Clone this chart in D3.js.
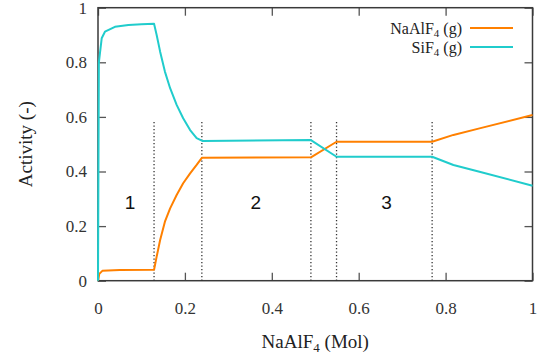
<!DOCTYPE html>
<html>
<head>
<meta charset="utf-8">
<script src="https://cdn.jsdelivr.net/npm/d3@7"></script>
<style>
  body { margin: 0; background: #fff; }
  svg { display: block; }
</style>
</head>
<body>
<svg id="chart" width="540" height="361"></svg>
<script>
// data
const naalf4X = [0, 0.003, 0.01, 0.05, 0.129, 0.135, 0.143, 0.154, 0.166, 0.181, 0.196, 0.212, 0.227, 0.239,
                 0.49, 0.549, 0.769, 0.818, 0.878, 1];
const naalf4Y = [0, 0.025, 0.036, 0.039, 0.04, 0.088, 0.149, 0.216, 0.265, 0.314, 0.357, 0.393, 0.424, 0.45,
                 0.452, 0.509, 0.509, 0.534, 0.558, 0.607];

const sif4X = [0, 0.002, 0.0085, 0.016, 0.039, 0.07, 0.1, 0.129, 0.135, 0.143, 0.154, 0.166, 0.181, 0.196, 0.212, 0.227, 0.24,
               0.49, 0.549, 0.769, 0.818, 0.878, 1];
const sif4Y = [0, 0.80, 0.888, 0.912, 0.93, 0.937, 0.939, 0.941, 0.900, 0.839, 0.766, 0.705, 0.644, 0.595, 0.552, 0.522, 0.512,
               0.515, 0.454, 0.454, 0.424, 0.399, 0.348];

const boundaries = [0.129, 0.239, 0.49, 0.549, 0.769];
const boundaryTop = 0.59;

const regionLabels = ["1", "2", "3"];
const regionX = [0.074, 0.363, 0.664];
const regionY = 0.285;

const tickValues = [0, 0.2, 0.4, 0.6, 0.8, 1];

const orange = "#ff8000";
const cyan = "#20cccc";

const svg = d3.select("#chart");

const x = d3.scaleLinear().domain([0, 1]).range([98, 532.5]);
const y = d3.scaleLinear().domain([0, 1]).range([280.7, 7.7]);

const fmt = d3.format("~g");
const serif = "'Liberation Serif', 'Times New Roman', serif";

// axes (ticks pointing inward)
const axBottom = svg.append("g")
  .attr("transform", `translate(0,${y(0)})`)
  .call(d3.axisBottom(x).tickValues(tickValues).tickFormat(fmt).tickSizeInner(-8).tickSizeOuter(0).tickPadding(21));
const axTop = svg.append("g")
  .attr("transform", `translate(0,${y(1)})`)
  .call(d3.axisTop(x).tickValues(tickValues).tickFormat("").tickSizeInner(-8).tickSizeOuter(0));
const axLeft = svg.append("g")
  .attr("transform", `translate(${x(0)},0)`)
  .call(d3.axisLeft(y).tickValues(tickValues).tickFormat(fmt).tickSizeInner(-8).tickSizeOuter(0).tickPadding(11));
const axRight = svg.append("g")
  .attr("transform", `translate(${x(1)},0)`)
  .call(d3.axisRight(y).tickValues(tickValues).tickFormat("").tickSizeInner(-8).tickSizeOuter(0));

[axBottom, axTop, axLeft, axRight].forEach(g => {
  g.select(".domain").remove();
  g.attr("font-family", null).attr("font-size", null);
  g.selectAll(".tick line").attr("stroke", "#555").attr("stroke-width", 1.3);
  g.selectAll(".tick text")
    .attr("fill", "#333")
    .style("font-family", serif)
    .style("font-size", "17px");
});

// frame
svg.append("rect")
  .attr("x", x(0))
  .attr("y", y(1))
  .attr("width", x(1) - x(0))
  .attr("height", y(0) - y(1))
  .attr("fill", "none")
  .attr("stroke", "#3a3a3a")
  .attr("stroke-width", 1.5);

// dotted phase boundaries
svg.selectAll("line.bound")
  .data(boundaries)
  .enter()
  .append("line")
  .attr("class", "bound")
  .attr("x1", d => x(d))
  .attr("x2", d => x(d))
  .attr("y1", y(0))
  .attr("y2", y(boundaryTop))
  .attr("stroke", "#333")
  .attr("stroke-width", 1.3)
  .attr("stroke-dasharray", "1.3,2.2");

// region numbers
svg.selectAll("text.region")
  .data(regionLabels)
  .enter()
  .append("text")
  .attr("class", "region")
  .attr("x", (d, i) => x(regionX[i]))
  .attr("y", y(regionY))
  .attr("text-anchor", "middle")
  .attr("dominant-baseline", "central")
  .style("font-family", "'Liberation Sans', Arial, sans-serif")
  .style("font-size", "19px")
  .attr("fill", "#111")
  .text(d => d);

// curves
const line = d3.line()
  .x(d => x(d[0]))
  .y(d => y(d[1]));

const series = [
  { name: "NaAlF", color: orange, pts: d3.zip(naalf4X, naalf4Y) },
  { name: "SiF", color: cyan, pts: d3.zip(sif4X, sif4Y) }
];

svg.selectAll("path.series")
  .data(series)
  .enter()
  .append("path")
  .attr("class", "series")
  .attr("d", d => line(d.pts))
  .attr("fill", "none")
  .attr("stroke", d => d.color)
  .attr("stroke-width", 2)
  .attr("stroke-linejoin", "round");

// legend
const legend = svg.selectAll("g.legend")
  .data(series)
  .enter()
  .append("g")
  .attr("class", "legend")
  .attr("transform", (d, i) => `translate(0,${28 + i * 19})`);

legend.append("line")
  .attr("x1", 470)
  .attr("x2", 513)
  .attr("stroke", d => d.color)
  .attr("stroke-width", 2);

const lt = legend.append("text")
  .attr("x", 462)
  .attr("y", 6)
  .attr("text-anchor", "end")
  .attr("fill", "#222")
  .style("font-family", serif)
  .style("font-size", "16px");
lt.append("tspan").text(d => d.name);
lt.append("tspan").attr("dy", 3).style("font-size", "11px").text("4");
lt.append("tspan").attr("dy", -3).text(" (g)");

// axis titles
const xt = svg.append("text")
  .attr("x", (x(0) + x(1)) / 2)
  .attr("y", 348)
  .attr("text-anchor", "middle")
  .attr("fill", "#222")
  .style("font-family", serif)
  .style("font-size", "19px");
xt.append("tspan").text("NaAlF");
xt.append("tspan").attr("dy", 4).style("font-size", "13px").text("4");
xt.append("tspan").attr("dy", -4).text(" (Mol)");

svg.append("text")
  .attr("transform", `translate(32,${(y(0) + y(1)) / 2}) rotate(-90)`)
  .attr("text-anchor", "middle")
  .attr("fill", "#222")
  .style("font-family", serif)
  .style("font-size", "19px")
  .text("Activity (-)");
</script>
</body>
</html>
